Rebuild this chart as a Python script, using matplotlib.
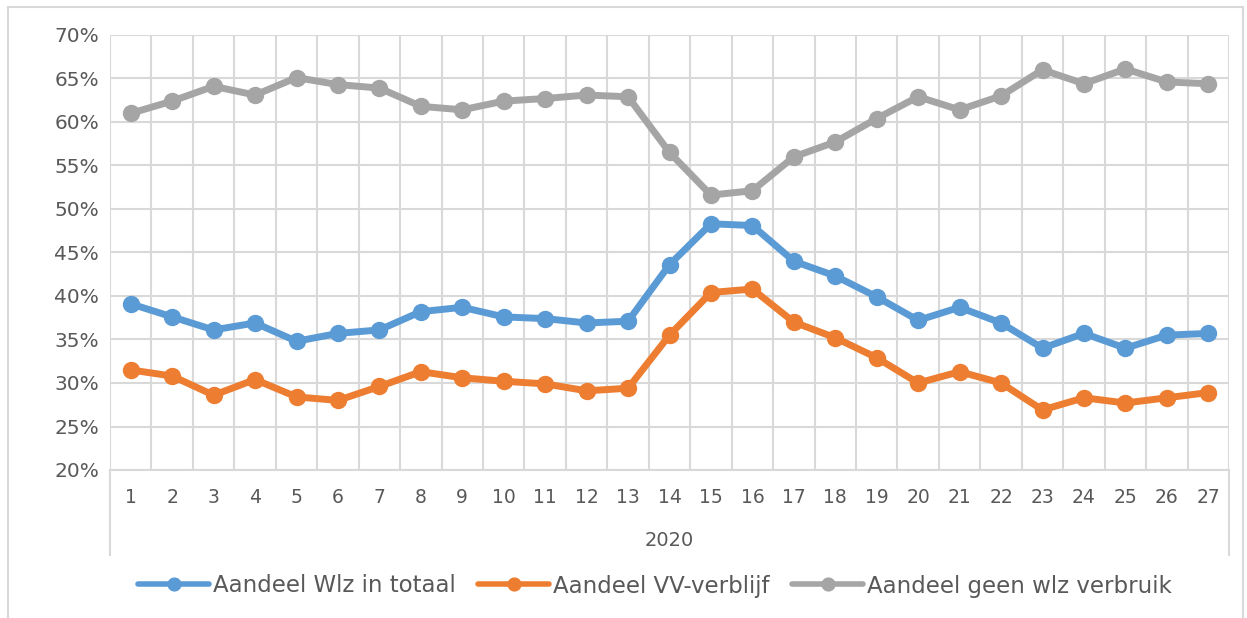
import matplotlib
matplotlib.use('Agg')
import matplotlib.pyplot as plt
from matplotlib.lines import Line2D
from matplotlib.patches import Rectangle
from matplotlib.ticker import FuncFormatter, MultipleLocator

# ── 数据 ──────────────────────────────────────────────────────────────────────
weeks = list(range(1, 28))
year_label = "2020"

wlz_totaal = [39.1, 37.6, 36.1, 36.9, 34.8, 35.7, 36.1, 38.2, 38.7, 37.6,
              37.4, 36.9, 37.1, 43.6, 48.3, 48.1, 44.0, 42.3, 39.9, 37.2,
              38.7, 36.9, 34.0, 35.7, 34.0, 35.5, 35.7]
vv_verblijf = [31.5, 30.8, 28.6, 30.4, 28.4, 28.0, 29.6, 31.3, 30.6, 30.2,
               29.9, 29.1, 29.4, 35.5, 40.4, 40.8, 37.0, 35.2, 32.9, 30.0,
               31.3, 30.0, 26.9, 28.3, 27.7, 28.3, 28.9]
geen_wlz = [61.0, 62.4, 64.1, 63.1, 65.1, 64.3, 63.9, 61.8, 61.4, 62.4,
            62.7, 63.1, 62.9, 56.5, 51.6, 52.1, 56.0, 57.7, 60.4, 62.9,
            61.4, 63.0, 66.0, 64.4, 66.1, 64.6, 64.4]

series = [
    ("Aandeel Wlz in totaal", wlz_totaal, '#5B9BD5'),
    ("Aandeel VV-verblijf", vv_verblijf, '#ED7D31'),
    ("Aandeel geen wlz verbruik", geen_wlz, '#A5A5A5'),
]

C_GRID = '#D9D9D9'
C_TEXT = '#595959'

plt.rcParams['font.family'] = ['DejaVu Sans']

fig = plt.figure(figsize=(12.47, 6.18), dpi=100, facecolor='white')
ax = fig.add_axes([110 / 1247, 1 - 470 / 618, (1229 - 110) / 1247, (470 - 35) / 618])

for label, vals, color in series:
    ax.plot(weeks, vals, color=color, lw=5, marker='o', ms=11.5,
            solid_capstyle='round', label=label, zorder=3)

ax.set_xlim(0.5, 27.5)
ax.set_ylim(20, 70)
ax.yaxis.set_major_locator(MultipleLocator(5))
ax.yaxis.set_major_formatter(FuncFormatter(lambda v, _: f"{v:.0f}%"))
ax.set_xticks(weeks)
ax.set_xticks([w + 0.5 for w in [0] + weeks], minor=True)

ax.grid(axis='y', which='major', color=C_GRID, lw=1.5, zorder=0)
ax.grid(axis='x', which='minor', color=C_GRID, lw=1.5, zorder=0)
ax.tick_params(axis='both', which='both', length=0, colors=C_TEXT)
ax.tick_params(axis='x', labelsize=13.5, pad=13)
ax.tick_params(axis='y', labelsize=14.5, pad=8)
for s in ax.spines.values():
    s.set_visible(False)
ax.spines['bottom'].set_visible(True)
ax.spines['bottom'].set_color(C_GRID)
ax.spines['bottom'].set_linewidth(1.5)

# 多级分类轴的边框线
for xa in (0, 1):
    ax.add_line(Line2D([xa, xa], [0, -85 / 435], transform=ax.transAxes,
                       color=C_GRID, lw=1.5, clip_on=False))
ax.text(0.5, -71 / 435, year_label, transform=ax.transAxes, ha='center',
        va='center', fontsize=14, color=C_TEXT)

leg = fig.legend(loc='center', bbox_to_anchor=(655 / 1247, 1 - 586 / 618), ncol=3,
                 frameon=False, fontsize=16.5, handlelength=3.1, columnspacing=1.0,
                 handletextpad=0.15, markerscale=0.8)
for t in leg.get_texts():
    t.set_color(C_TEXT)
for h in leg.legend_handles:
    h.set_linewidth(4)

# 图表外框
fig.patches.append(Rectangle((8 / 1247, -0.02), (1243 - 8) / 1247, 1 - 7 / 618 + 0.02,
                             transform=fig.transFigure, fill=False,
                             edgecolor=C_GRID, lw=1.5))

fig.savefig('out.png', dpi=100, facecolor='white')
